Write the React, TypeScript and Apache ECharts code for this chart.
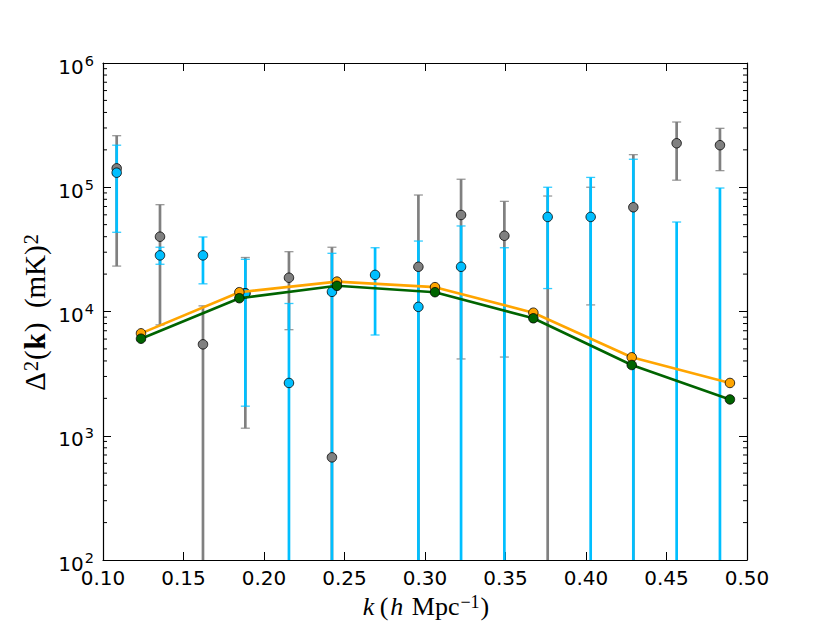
import React, { useEffect, useRef } from "react";
import * as echarts from "echarts";

// ---------- data ----------
const kBins = [0.1085, 0.1354, 0.1621, 0.1884, 0.2155, 0.2422, 0.269, 0.2959, 0.3224, 0.3493, 0.3762, 0.4029, 0.4294, 0.4563, 0.4832];

const grayValues = [1.42e5, 4.0e4, 5.44e3, 1.4e4, 1.87e4, 670, null, 2.29e4, 5.98e4, 4.07e4, null, null, 6.9e4, 2.26e5, 2.18e5];
const grayUpper = [2.6e5, 7.24e4, 1.11e4, 2.72e4, 3.03e4, 3.29e4, null, 8.66e4, 1.16e5, 7.7e4, 8.5e4, 1.0e5, 1.83e5, 3.35e5, 2.98e5];
const grayLower = [2.32e4, 7.8e3, null, 1.15e3, 7.14e3, null, null, null, 4.15e3, 4.3e3, null, 1.13e4, null, 1.14e5, 1.36e5];

const blueValues = [1.31e5, 2.83e4, 2.83e4, 1.4e4, 2.66e3, 1.44e4, 1.97e4, 1.09e4, 2.29e4, null, 5.77e4, 5.77e4, null, null, null];
const blueUpper = [2.18e5, 3.29e4, 3.98e4, 2.63e4, 1.16e4, 2.94e4, 3.26e4, 3.69e4, 4.88e4, 3.26e4, 1.0e5, 1.2e5, 1.68e5, 5.25e4, 9.86e4];
const blueLower = [4.34e4, 2.4e4, 1.67e4, 1.73e3, null, null, 6.47e3, null, null, null, 1.53e4, null, null, null, null];

const modelK = [0.1236, 0.1847, 0.2453, 0.3062, 0.3673, 0.4284, 0.4894];
const orangeValues = [6.67e3, 1.43e4, 1.74e4, 1.57e4, 9.78e3, 4.28e3, 2.66e3];
const greenValues = [6.04e3, 1.28e4, 1.61e4, 1.43e4, 8.82e3, 3.71e3, 1.96e3];

const xTicks = ["0.10", "0.15", "0.20", "0.25", "0.30", "0.35", "0.40", "0.45", "0.50"];
const yDecades = [100, 1000, 10000, 100000];
const minorMultipliers = [2, 3, 4, 5, 6, 7, 8, 9];

const X_MIN = 0.1;
const X_MAX = 0.5;
const Y_MIN = 100;
const Y_MAX = 1000000;

const GRAY = "#808080";
const BLUE = "#00BFFF";
const ORANGE = "#FFA500";
const GREEN = "#006400";

function errorBarSeries(lower: (number | null)[], upper: (number | null)[], color: string) {
  const items: { value: number[]; cap: boolean }[] = [];
  kBins.forEach((k, i) => {
    const hi = upper[i];
    if (hi == null) return;
    const lo = lower[i];
    items.push({ value: [k, lo == null ? Y_MIN : lo, hi], cap: lo != null });
  });
  return {
    type: "custom",
    silent: true,
    z: 1,
    encode: { x: 0, y: [1, 2] },
    data: items.map((d) => d.value),
    renderItem: (params: any, api: any) => {
      const d = items[params.dataIndex];
      const top = api.coord([d.value[0], d.value[2]]);
      const bot = api.coord([d.value[0], d.value[1]]);
      const capHalf = 4.5;
      const children: any[] = [
        {
          type: "line",
          shape: { x1: top[0], y1: top[1], x2: bot[0], y2: bot[1] },
          style: { stroke: color, lineWidth: 2.7 },
        },
        {
          type: "line",
          shape: { x1: top[0] - capHalf, y1: top[1], x2: top[0] + capHalf, y2: top[1] },
          style: { stroke: color, lineWidth: 1.3, opacity: 0.8 },
        },
      ];
      if (d.cap) {
        children.push({
          type: "line",
          shape: { x1: bot[0] - capHalf, y1: bot[1], x2: bot[0] + capHalf, y2: bot[1] },
          style: { stroke: color, lineWidth: 1.3, opacity: 0.8 },
        });
      }
      return { type: "group", children };
    },
  };
}

function pointSeries(values: (number | null)[], color: string, z: number) {
  const data: number[][] = [];
  kBins.forEach((k, i) => {
    const v = values[i];
    if (v != null) data.push([k, v]);
  });
  return {
    type: "scatter",
    silent: true,
    z,
    symbol: "circle",
    symbolSize: 9.5,
    itemStyle: { color, borderColor: "#000", borderWidth: 0.8, opacity: 1 },
    data,
  };
}

function modelSeries(values: number[], color: string, z: number) {
  return {
    type: "line",
    silent: true,
    z,
    symbol: "circle",
    symbolSize: 9.5,
    showSymbol: true,
    lineStyle: { color, width: 2.6 },
    itemStyle: { color, borderColor: "#000", borderWidth: 0.8 },
    data: modelK.map((k, i) => [k, values[i]]),
  };
}

export default function App() {
  const ref = useRef<HTMLDivElement>(null);
  useEffect(() => {
    if (!ref.current) return;
    const chart = echarts.init(ref.current, null, { renderer: "svg" });

    const minorTicks: number[][] = [];
    yDecades.forEach((d) => minorMultipliers.forEach((m) => minorTicks.push([X_MIN, d * m])));

    const axisCommon = {
      axisLine: { show: true, onZero: false, lineStyle: { color: "#000", width: 1.2 } },
      splitLine: { show: false },
    };

    const option: any = {
      animation: false,
      backgroundColor: "#fff",
      grid: { left: 103, top: 63, width: 644, height: 497, containLabel: false },
      xAxis: [
        {
          type: "value",
          min: X_MIN,
          max: X_MAX,
          interval: 0.05,
          position: "bottom",
          ...axisCommon,
          axisTick: { show: true, inside: true, length: 8, lineStyle: { color: "#000", width: 1 } },
          axisLabel: {
            show: true,
            margin: 8,
            color: "#000",
            fontSize: 20,
            fontFamily: "DejaVu Sans",
            formatter: (v: number) => xTicks[Math.round((v - X_MIN) / 0.05)] ?? v.toFixed(2),
          },
        },
        {
          type: "value",
          min: X_MIN,
          max: X_MAX,
          interval: 0.05,
          position: "top",
          ...axisCommon,
          axisTick: { show: true, inside: true, length: 8, lineStyle: { color: "#000", width: 1 } },
          axisLabel: { show: false },
        },
      ],
      yAxis: [
        {
          type: "log",
          logBase: 10,
          min: Y_MIN,
          max: Y_MAX,
          position: "left",
          ...axisCommon,
          axisTick: { show: true, inside: true, length: 8, lineStyle: { color: "#000", width: 1 } },
          axisLabel: {
            show: true,
            margin: 9,
            formatter: (v: number) => `{b|10}{s|${Math.round(Math.log10(v))}}`,
            rich: {
              b: {
                fontSize: 20,
                fontFamily: "DejaVu Sans",
                color: "#000",
                lineHeight: 20,
                padding: [3.5, 0, 7.5, 0],
                verticalAlign: "top",
              },
              s: {
                fontSize: 14.5,
                fontFamily: "DejaVu Sans",
                color: "#000",
                lineHeight: 14,
                padding: [0, 0, 0, 1],
                verticalAlign: "top",
              },
            },
          },
        },
        {
          type: "log",
          logBase: 10,
          min: Y_MIN,
          max: Y_MAX,
          position: "right",
          ...axisCommon,
          axisTick: { show: true, inside: true, length: 8, lineStyle: { color: "#000", width: 1 } },
          axisLabel: { show: false },
        },
      ],
      series: [
        {
          type: "custom",
          silent: true,
          z: 0,
          data: minorTicks,
          renderItem: (params: any, api: any) => {
            const v = api.value(1);
            const l = api.coord([X_MIN, v]);
            const r = api.coord([X_MAX, v]);
            return {
              type: "group",
              children: [
                { type: "line", shape: { x1: l[0], y1: l[1], x2: l[0] + 4, y2: l[1] }, style: { stroke: "#000", lineWidth: 1 } },
                { type: "line", shape: { x1: r[0], y1: r[1], x2: r[0] - 4, y2: r[1] }, style: { stroke: "#000", lineWidth: 1 } },
              ],
            };
          },
        },
        errorBarSeries(grayLower, grayUpper, GRAY),
        errorBarSeries(blueLower, blueUpper, BLUE),
        pointSeries(grayValues, GRAY, 3),
        pointSeries(blueValues, BLUE, 4),
        modelSeries(orangeValues, ORANGE, 5),
        modelSeries(greenValues, GREEN, 6),
      ],
      graphic: [
        {
          type: "text",
          x: 425,
          y: 606,
          silent: true,
          style: {
            text: "{i|k} {r|(}{i|h}{r| Mpc}{s|−1}{r|)}",
            align: "center",
            verticalAlign: "middle",
            rich: {
              i: { fontSize: 26, fontFamily: "Liberation Serif", fontStyle: "italic", fill: "#000", lineHeight: 26, padding: [6, 2, 0, 2], verticalAlign: "bottom" },
              r: { fontSize: 26, fontFamily: "Liberation Serif", fill: "#000", lineHeight: 26, padding: [6, 0, 0, 0], verticalAlign: "bottom" },
              s: { fontSize: 18, fontFamily: "Liberation Serif", fill: "#000", lineHeight: 18, padding: [0, 1, 0, 1], verticalAlign: "top" },
            },
          },
        },
        {
          type: "text",
          x: 35,
          y: 312,
          rotation: Math.PI / 2,
          silent: true,
          style: {
            text: "{r|Δ}{s|2}{r|(}{b|k}{r|)  (mK)}{s|2}",
            align: "center",
            verticalAlign: "middle",
            rich: {
              r: { fontSize: 29, fontFamily: "Liberation Serif", fill: "#000", lineHeight: 29, padding: [7, 0, 0, 0], verticalAlign: "bottom" },
              b: { fontSize: 29, fontFamily: "Liberation Serif", fontWeight: "bold", fill: "#000", lineHeight: 29, padding: [7, 1, 0, 1], verticalAlign: "bottom" },
              s: { fontSize: 20, fontFamily: "Liberation Serif", fill: "#000", lineHeight: 20, padding: [0, 1, 0, 1], verticalAlign: "top" },
            },
          },
        },
      ],
    };

    chart.setOption(option);
    return () => chart.dispose();
  }, []);

  return <div ref={ref} style={{ position: "absolute", left: 0, top: 0, width: 830, height: 623 }} />;
}
